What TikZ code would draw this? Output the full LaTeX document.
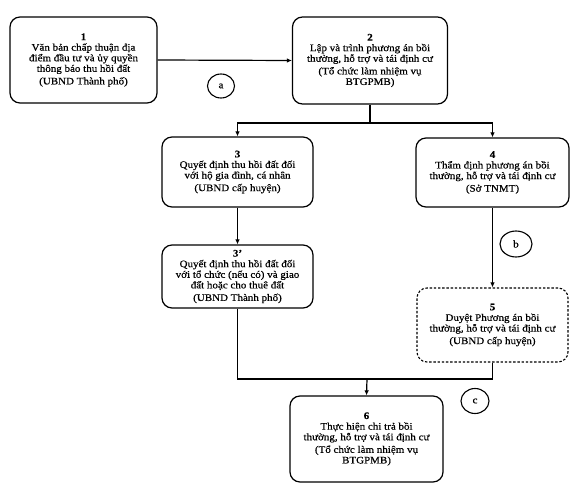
\documentclass[tikz,border=0pt]{standalone}
\usepackage{fontspec}
\setmainfont{Liberation Serif}[FakeStretch=1.1,FakeBold=0.5]
\usetikzlibrary{arrows.meta,shapes.geometric}
\begin{document}
\begin{tikzpicture}[x=1pt,y=-1pt,
  stepbox/.style={draw,line width=1.2pt,rounded corners=10pt,align=center,
    inner sep=1pt,font=\fontsize{10}{10.6}\selectfont},
  dashbox/.style={stepbox,line width=1.1pt,dash pattern=on 2.4pt off 1.8pt},
  lbl/.style={draw,ellipse,line width=1.1pt,inner sep=0pt,font=\fontsize{10}{10}\selectfont},
  conn/.style={line width=1.2pt},
  arr/.style={conn,-{Latex[length=5pt,width=4.5pt]}}]
\useasboundingbox (0,0) rectangle (582,489);
\node[stepbox,minimum width=147pt,minimum height=86pt] (b1) at (83.5,60)
  {\textbf{1}\\Văn bản chấp thuận địa\\điểm đầu tư và ủy quyền\\thông báo thu hồi đất\\[2pt](UBND Thành phố)};
\node[stepbox,minimum width=155pt,minimum height=87pt] (b2) at (370,60.5)
  {\textbf{2}\\Lập và trình phương án bồi\\thường, hỗ trợ và tái định cư\\[2pt](Tổ chức làm nhiệm vụ\\BTGPMB)};
\node[stepbox,minimum width=151pt,minimum height=70pt] (b3) at (237.5,172)
  {\textbf{3}\\Quyết định thu hồi đất đối\\với hộ gia đình, cá nhân\\[2pt](UBND cấp huyện)};
\node[stepbox,minimum width=153pt,minimum height=69pt] (b4) at (492.5,172.5)
  {\textbf{4}\\Thẩm định phương án bồi\\thường, hỗ trợ và tái định cư\\[2pt](Sở TNMT)};
\node[stepbox,minimum width=151pt,minimum height=63pt] (b3p) at (237.5,276.5)
  {\textbf{3'}\\Quyết định thu hồi đất đối\\với tổ chức (nếu có) và giao\\đất hoặc cho thuê đất\\[2pt](UBND Thành phố)};
\node[dashbox,minimum width=151pt,minimum height=74pt] (b5) at (492.5,325)
  {\textbf{5}\\Duyệt Phương án bồi\\thường, hỗ trợ và tái định cư\\[2pt](UBND cấp huyện)};
\node[stepbox,minimum width=153pt,minimum height=86pt] (b6) at (366.5,439)
  {\textbf{6}\\Thực hiện chi trả bồi\\thường, hỗ trợ và tái định cư\\[2pt](Tổ chức làm nhiệm vụ\\BTGPMB)};
\node[lbl,minimum width=27pt,minimum height=24pt] (la) at (221,86) {a};
\node[lbl,minimum width=32pt,minimum height=26pt] (lb) at (516,244) {b};
\node[lbl,minimum width=28pt,minimum height=25pt] (lc) at (475,401) {c};
\coordinate (s1) at (370,123);
\coordinate (s2) at (367,379);
\draw[arr] (b1.east) -- (b2.west);
\draw[conn] (b2.south) -- (s1);
\draw[arr] (s1) -| (b3.north);
\draw[arr] (s1) -| (b4.north);
\draw[arr] (b3.south) -- (b3p.north);
\draw[arr] (b4.south) -- (b5.north);
\draw[conn] (b3p.south) |- (s2);
\draw[conn] (b5.south) |- (s2);
\draw[arr] (s2) -- (b6.north);
\end{tikzpicture}
\end{document}
